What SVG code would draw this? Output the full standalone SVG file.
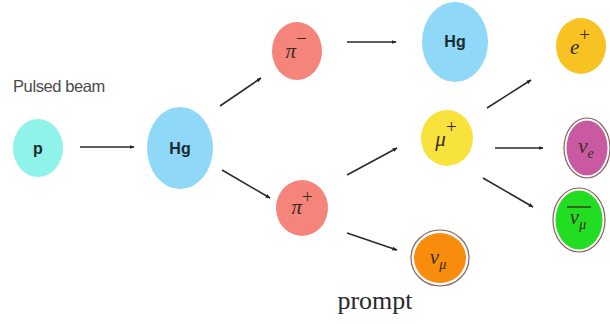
<svg xmlns="http://www.w3.org/2000/svg" width="610" height="324" viewBox="0 0 610 324">
<defs>
<marker id="ah" viewBox="0 0 10 10" refX="9" refY="5" markerWidth="5" markerHeight="5" orient="auto" markerUnits="userSpaceOnUse">
<path d="M0,1 L10,5 L0,9 z" fill="#222"/>
</marker>
<style>
.lbl{font-family:"Liberation Sans",Arial,sans-serif;font-weight:bold;font-size:16px;fill:#1a2a30;text-anchor:middle}
.m{font-family:"Liberation Serif","Times New Roman",serif;font-style:italic;font-size:21px;fill:#3a2a20;text-anchor:middle}
.sup{font-size:19px;font-style:normal}
.sub{font-size:14px}
.arr{stroke:#2a2a2a;stroke-width:1.6;fill:none;marker-end:url(#ah)}
.ring{fill:#fff;stroke:#8a6058;stroke-width:1.2}
</style>
</defs>
<rect width="610" height="324" fill="#fff"/>
<text x="13" y="92" font-family="'Liberation Sans',Arial,sans-serif" font-size="16.5" fill="#4a4a4a" letter-spacing="-0.4">Pulsed beam</text>
<g id="connectors">
<line class="arr" x1="80" y1="147" x2="134" y2="147"/>
<line class="arr" x1="220" y1="106" x2="261" y2="78"/>
<line class="arr" x1="222" y1="170" x2="270" y2="198"/>
<line class="arr" x1="347" y1="42" x2="396" y2="42"/>
<line class="arr" x1="347" y1="175" x2="397" y2="148"/>
<line class="arr" x1="347" y1="233" x2="397" y2="250"/>
<line class="arr" x1="487" y1="108" x2="531" y2="80"/>
<line class="arr" x1="495" y1="148" x2="543" y2="148"/>
<line class="arr" x1="483" y1="178" x2="533" y2="207"/>
</g>
<g id="node-p">
<ellipse cx="38" cy="148" rx="25" ry="29" fill="#8ff3ea"/>
<text class="lbl" x="38" y="154">p</text>
</g>
<g id="node-hg1">
<ellipse cx="180" cy="148" rx="33" ry="41" fill="#8fd8f8"/>
<text class="lbl" x="180" y="154">Hg</text>
</g>
<g id="node-piminus">
<ellipse cx="297" cy="51" rx="25" ry="29" fill="#f5847a"/>
<text class="m" x="296" y="58">π<tspan class="sup" dy="-13">−</tspan></text>
</g>
<g id="node-hg2">
<ellipse cx="455" cy="42" rx="33" ry="40" fill="#8fd8f8"/>
<text class="lbl" x="455" y="47">Hg</text>
</g>
<g id="node-piplus">
<ellipse cx="302" cy="208" rx="26" ry="28" fill="#f5847a"/>
<text class="m" x="302" y="214">π<tspan class="sup" dy="-11">+</tspan></text>
</g>
<g id="node-numu">
<ellipse class="ring" cx="440" cy="258" rx="29" ry="28"/>
<ellipse cx="440" cy="258" rx="26" ry="25" fill="#f88c0c"/>
<text class="m" x="438" y="264">ν<tspan class="sub" dy="5">μ</tspan></text>
</g>
<g id="node-muplus">
<ellipse cx="447" cy="138" rx="26" ry="28" fill="#f8e23c"/>
<text class="m" x="446" y="146">μ<tspan class="sup" dy="-13">+</tspan></text>
</g>
<g id="node-eplus">
<ellipse cx="581" cy="46" rx="25" ry="28" fill="#f8c222"/>
<text class="m" x="580" y="54">e<tspan class="sup" dy="-13">+</tspan></text>
</g>
<g id="node-nue">
<ellipse class="ring" cx="587" cy="148" rx="23" ry="30"/>
<ellipse cx="587" cy="148" rx="20.5" ry="27.5" fill="#c95aa2"/>
<text class="m" x="586" y="153">ν<tspan class="sub" dy="5">e</tspan></text>
</g>
<g id="node-nubarmu">
<ellipse class="ring" cx="579" cy="220" rx="26" ry="32"/>
<ellipse cx="579" cy="220" rx="23.5" ry="29.5" fill="#22dd22"/>
<text class="m" x="578" y="224">ν<tspan class="sub" dy="5">μ</tspan></text>
<line x1="567" y1="207" x2="591" y2="207" stroke="#3a2a20" stroke-width="1.3"/>
</g>
<text x="375" y="309" text-anchor="middle" font-family="'Liberation Serif','Times New Roman',serif" font-size="26" fill="#2a2a2a">prompt</text>
</svg>
